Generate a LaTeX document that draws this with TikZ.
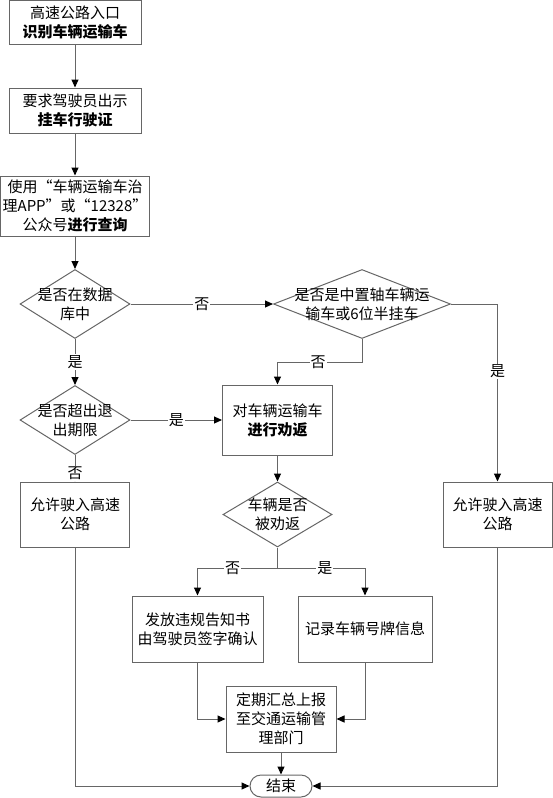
\documentclass[tikz,border=0pt]{standalone}
\usepackage{fontspec}
\setmainfont{Noto Sans CJK SC}
\usetikzlibrary{shapes.geometric,arrows.meta}

\begin{document}
\begin{tikzpicture}[x=1pt, y=-1pt, line width=1pt,
    >={Triangle[length=8pt,width=7pt,black]}]
\tikzstyle{every node}+=[font=\fontsize{15}{19}\selectfont, align=center]
\tikzstyle{box}=[draw=black!60, rectangle, inner sep=0pt]
\tikzstyle{decision}=[draw=black!60, diamond, inner sep=0pt]
\tikzstyle{flow}=[draw=black!60, ->]
\tikzstyle{tag}=[fill=white, inner sep=1pt]
\useasboundingbox (0,0) rectangle (553,798);

\node[box, minimum width=132pt, minimum height=44pt] (entry) at (75,22.5)
      {高速公路入口\\\textbf{识别车辆运输车}};
\node[box, minimum width=132pt, minimum height=45pt] (license) at (75,110.5)
      {要求驾驶员出示\\\textbf{挂车行驶证}};
\node[box, minimum width=149pt, minimum height=60pt] (query) at (75,206)
      {使用“车辆运输车治\\理APP”或“12328”\\公众号\textbf{进行查询}};
\node[decision, minimum width=110pt, minimum height=69pt,
      label={[align=center]center:是否在数据\\库中}] (indb) at (75,304) {};
\node[decision, minimum width=177pt, minimum height=69pt,
      label={[align=center]center:是否是中置轴车辆运\\输车或6位半挂车}] (axle) at (362,304) {};
\node[decision, minimum width=110pt, minimum height=69pt,
      label={[align=center]center:是否超出退\\出期限}] (overdue) at (75,420) {};
\node[box, minimum width=110pt, minimum height=70pt] (persuade) at (277.5,420)
      {对车辆运输车\\\textbf{进行劝返}};
\node[box, minimum width=109pt, minimum height=65pt] (allowL) at (75,514.5)
      {允许驶入高速\\公路};
\node[box, minimum width=109pt, minimum height=65pt] (allowR) at (497.5,514.5)
      {允许驶入高速\\公路};
\node[decision, minimum width=109pt, minimum height=65pt,
      label={[align=center]center:车辆是否\\被劝返}] (turned) at (277.5,514.5) {};
\node[box, minimum width=131pt, minimum height=66pt] (notice) at (197.5,629)
      {发放违规告知书\\由驾驶员签字确认};
\node[box, minimum width=134pt, minimum height=66pt] (record) at (365,629)
      {记录车辆号牌信息};
\node[box, minimum width=110pt, minimum height=66pt] (report) at (281,719)
      {定期汇总上报\\至交通运输管\\理部门};
\node[box, rounded corners=11pt, minimum width=62pt, minimum height=22pt] (finish) at (281,786)
      {结束};
\coordinate (split) at (277.5,568);

\draw[flow] (entry) -- (license);
\draw[flow] (license) -- (query);
\draw[flow] (query) -- (indb);
\draw[flow] (indb) -- node[tag]{否} (axle);
\draw[flow] (axle.south) -- ++(0,23) -| node[tag, pos=0.26]{否} (persuade.north);
\draw[flow] (axle.east) -| node[tag, pos=0.69]{是} (allowR.north);
\draw[flow] (indb) -- node[tag]{是} (overdue);
\draw[flow] (overdue) -- node[tag]{是} (persuade);
\draw[flow] (overdue) -- node[tag, pos=0.7]{否} (allowL);
\draw[flow] (persuade) -- (turned);
\draw[draw=black!60] (turned.south) -- (split);
\draw[flow] (split) -| node[tag, pos=0.28]{否} (notice.north);
\draw[flow] (split) -| node[tag, pos=0.27]{是} (record.north);
\draw[flow] (notice.south) |- (report.west);
\draw[flow] (record.south) |- (report.east);
\draw[flow] (report) -- (finish);
\draw[flow] (allowL.south) |- (finish.west);
\draw[flow] (allowR.south) |- (finish.east);
\end{tikzpicture}
\end{document}
